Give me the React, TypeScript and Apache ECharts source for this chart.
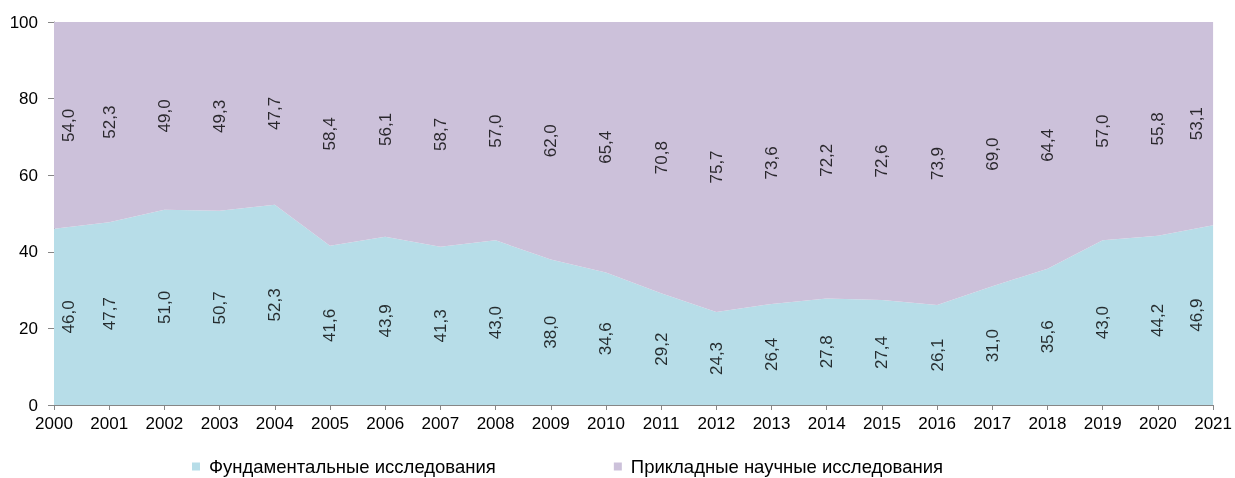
import React, { useEffect, useRef } from "react";
import * as echarts from "echarts";

const years = ["2000","2001","2002","2003","2004","2005","2006","2007","2008","2009","2010","2011","2012","2013","2014","2015","2016","2017","2018","2019","2020","2021"];
const fundamental = [46.0, 47.7, 51.0, 50.7, 52.3, 41.6, 43.9, 41.3, 43.0, 38.0, 34.6, 29.2, 24.3, 26.4, 27.8, 27.4, 26.1, 31.0, 35.6, 43.0, 44.2, 46.9];
const applied = [54.0, 52.3, 49.0, 49.3, 47.7, 58.4, 56.1, 58.7, 57.0, 62.0, 65.4, 70.8, 75.7, 73.6, 72.2, 72.6, 73.9, 69.0, 64.4, 57.0, 55.8, 53.1];
const seriesNames = ["Фундаментальные исследования", "Прикладные научные исследования"];

const FONT = "'Liberation Sans', Arial, sans-serif";
const C_LOW = "#b7dde8";
const C_HIGH = "#ccc1da";

const fmt = (v: number) => v.toFixed(1).replace(".", ",");

function labelData(vals: number[], base: number[]) {
  const n = vals.length;
  return vals.map((v, i) => {
    const item: any = { value: [i, base[i] + v / 2] };
    if (i === 0) item.label = { offset: [0, 14] };
    if (i === n - 1) item.label = { offset: [0, -17] };
    return item;
  });
}

export default function App() {
  const ref = useRef<HTMLDivElement>(null);
  useEffect(() => {
    if (!ref.current) return;
    const chart = echarts.init(ref.current, undefined, { renderer: "svg" });
    const zeros = fundamental.map(() => 0);
    const labelCommon = {
      show: true,
      position: "inside",
      rotate: 90,
      fontSize: 17,
      fontFamily: FONT,
      color: "#000",
    };
    chart.setOption({
      animation: false,
      grid: { left: 54, right: 19, top: 22, bottom: 73, containLabel: false },
      legend: {
        data: seriesNames.map((n, i) => ({ name: n, itemStyle: { color: i === 0 ? C_LOW : C_HIGH } })),
        left: 192,
        top: 457,
        padding: 0,
        icon: "rect",
        itemWidth: 8,
        itemHeight: 8,
        itemGap: 118,
        textStyle: { fontSize: 18.5, fontFamily: FONT, color: "#000", padding: [0, 0, 0, 4] },
      },
      xAxis: {
        type: "category",
        data: years,
        boundaryGap: false,
        axisLine: { lineStyle: { color: "#868686" } },
        axisTick: { show: true, length: 5, lineStyle: { color: "#868686" } },
        axisLabel: { color: "#000", fontSize: 17, fontFamily: FONT, margin: 10, interval: 0 },
        splitLine: { show: false },
      },
      yAxis: {
        type: "value",
        min: 0,
        max: 100,
        interval: 20,
        axisLine: { show: true, lineStyle: { color: "#868686" } },
        axisTick: { show: true, length: 6, lineStyle: { color: "#868686" } },
        axisLabel: { color: "#000", fontSize: 17, fontFamily: FONT, margin: 16 },
        splitLine: { show: false },
      },
      series: [
        {
          name: seriesNames[0],
          type: "line",
          stack: "total",
          data: fundamental,
          symbol: "none",
          lineStyle: { width: 0, opacity: 0 },
          areaStyle: { color: C_LOW, opacity: 1 },
          itemStyle: { color: C_LOW },
          silent: true,
        },
        {
          name: seriesNames[1],
          type: "line",
          stack: "total",
          data: applied,
          symbol: "none",
          lineStyle: { width: 0, opacity: 0 },
          areaStyle: { color: C_HIGH, opacity: 1 },
          itemStyle: { color: C_HIGH },
          silent: true,
        },
        {
          name: "lbl1",
          type: "scatter",
          data: labelData(fundamental, zeros),
          symbolSize: 2,
          itemStyle: { color: "rgba(0,0,0,0)" },
          silent: true,
          z: 5,
          label: { ...labelCommon, formatter: (p: any) => fmt(fundamental[p.dataIndex]) },
        },
        {
          name: "lbl2",
          type: "scatter",
          data: labelData(applied, fundamental),
          symbolSize: 2,
          itemStyle: { color: "rgba(0,0,0,0)" },
          silent: true,
          z: 5,
          label: { ...labelCommon, formatter: (p: any) => fmt(applied[p.dataIndex]) },
        },
      ],
    });
    return () => chart.dispose();
  }, []);
  return <div ref={ref} style={{ position: "fixed", left: 0, top: 0, width: 1235, height: 478 }} />;
}
